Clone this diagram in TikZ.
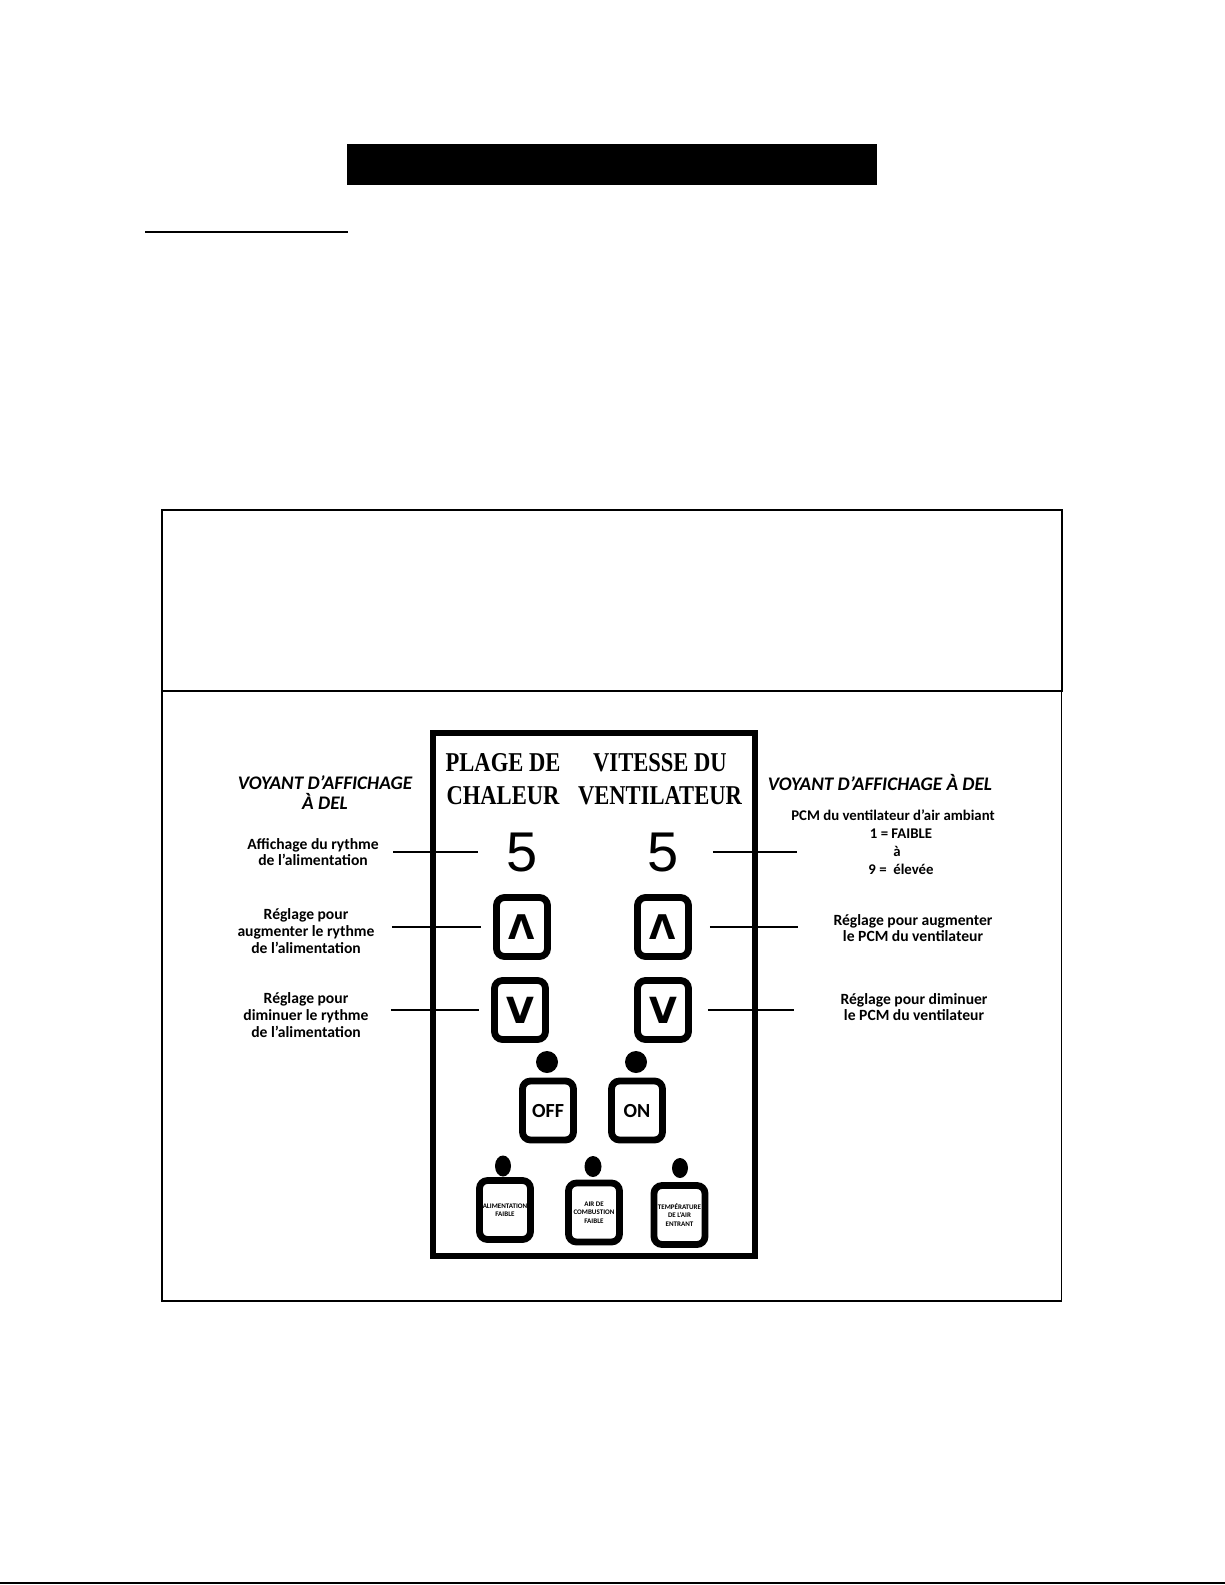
\documentclass[tikz,border=0pt]{standalone}
\usepackage{fontspec}
\setmainfont{Carlito}
\newfontfamily\titlefont[FakeStretch=0.83]{Liberation Serif}
\newfontfamily\digitfont{Liberation Sans}
\newfontfamily\keyfont{DejaVu Sans}
\usetikzlibrary{shapes.geometric}

\begin{document}
\begin{tikzpicture}[x=0.5pt, y=-0.5pt,
  btn/.style={draw, line width=3.4pt, rounded corners=4pt, minimum width=25.5pt, minimum height=29.5pt, inner sep=0pt, align=center},
  led/.style={fill, ellipse, inner sep=0pt},
  leader/.style={line width=0.8pt},
  sidenote/.style={font=\bfseries\fontsize{7.8}{8.4}\selectfont, align=center, inner sep=0pt},
  sidehead/.style={font=\bfseries\itshape\fontsize{9.6}{10}\selectfont, align=center, inner sep=0pt},
  paneltitle/.style={font=\titlefont\bfseries\fontsize{13.6}{16.5}\selectfont, align=center, inner sep=0pt},
  digit/.style={font=\digitfont\fontsize{28}{28}\selectfont, inner sep=0pt},
  tinytext/.style={font=\bfseries\fontsize{3.5}{4.3}\selectfont}]
\useasboundingbox (0,0) rectangle (1225,1585);
\fill (347,143.5) rectangle (877,185);
\draw[line width=1pt] (145,232) -- (348,232);
\draw[line width=0.9pt] (162,510) rectangle (1062,691);
\draw[line width=0.9pt] (162,691) rectangle (1061.5,1301);
\draw[line width=1.2pt] (0,1583) -- (1225,1583);
\draw[line width=3.2pt] (433,733) rectangle (755,1256);

\node[paneltitle] (ttlHeat) at (503,779) {PLAGE DE\\CHALEUR};
\node[paneltitle] (ttlFan) at (660,779) {VITESSE DU\\VENTILATEUR};
\node[digit] (digHeat) at (522,852) {5};
\node[digit] (digFan) at (663,852) {5};
\node[btn, font=\keyfont\bfseries\fontsize{17}{17}\selectfont] (upHeat) at (522,927) {Λ};
\node[btn, font=\keyfont\bfseries\fontsize{17}{17}\selectfont] (upFan) at (663,927) {Λ};
\node[btn, font=\keyfont\bfseries\fontsize{18}{18}\selectfont] (dnHeat) at (520,1010) {V};
\node[btn, font=\keyfont\bfseries\fontsize{18}{18}\selectfont] (dnFan) at (663,1010) {V};
\node[btn, font=\bfseries\fontsize{10}{10}\selectfont] (btnOff) at (548,1110.5) {OFF};
\node[btn, font=\bfseries\fontsize{10}{10}\selectfont] (btnOn) at (637,1110.5) {ON};
\node[led, minimum width=11pt, minimum height=11pt] (ledOff) at (547,1062) {};
\node[led, minimum width=11pt, minimum height=11pt] (ledOn) at (636,1062) {};
\node[btn, tinytext] (btnFeed) at (505,1210) {ALIMENTATION\\FAIBLE};
\node[btn, tinytext] (btnAir) at (594,1212.5) {AIR DE\\COMBUSTION\\FAIBLE};
\node[btn, tinytext] (btnTemp) at (679.5,1215) {TEMPÉRATURE\\DE L’AIR\\ENTRANT};
\node[led, minimum width=8pt, minimum height=10.5pt] (ledFeed) at (503,1166) {};
\node[led, minimum width=8.5pt, minimum height=10.5pt] (ledAir) at (593,1166.5) {};
\node[led, minimum width=8pt, minimum height=10pt] (ledTemp) at (680,1168) {};

\node[sidehead] (headL) at (325,793) {VOYANT D’AFFICHAGE\\À DEL};
\node[sidehead] (headR) at (880,782) {VOYANT D’AFFICHAGE À DEL};
\node[sidenote] (noteRate) at (313,852) {Affichage du rythme\\de l’alimentation};
\node[sidenote] (noteUpL) at (306,931) {Réglage pour\\augmenter le rythme\\de l’alimentation};
\node[sidenote] (noteDnL) at (306,1015) {Réglage pour\\diminuer le rythme\\de l’alimentation};
\node[sidenote, font=\bfseries\fontsize{7.4}{9}\selectfont] (notePcm) at (893,842) {PCM du ventilateur d’air ambiant\\\hspace*{8pt}1 = FAIBLE\\\hspace*{4pt}à\\\hspace*{8pt}9 =~~élevée};
\node[sidenote] (noteUpR) at (913,928) {Réglage pour augmenter\\le PCM du ventilateur};
\node[sidenote] (noteDnR) at (914,1007) {Réglage pour diminuer\\le PCM du ventilateur};

\draw[leader, shorten <=17pt, shorten >=-3pt] (digFan.east) -- (digFan.east -| notePcm.west);
\draw[leader, shorten <=7pt, shorten >=14pt] (noteRate.east |- digHeat.west) -- (digHeat.west);
\draw[leader, shorten <=8.5pt, shorten >=6pt] (noteUpL.east |- upHeat.west) -- (upHeat.west);
\draw[leader, shorten <=11pt, shorten >=6pt] (noteDnL.east |- dnHeat.west) -- (dnHeat.west);
\draw[leader, shorten <=9pt, shorten >=17.5pt] (upFan.east) -- (upFan.east -| noteUpR.west);
\draw[leader, shorten <=8pt, shorten >=23pt] (dnFan.east) -- (dnFan.east -| noteDnR.west);
\end{tikzpicture}
\end{document}
